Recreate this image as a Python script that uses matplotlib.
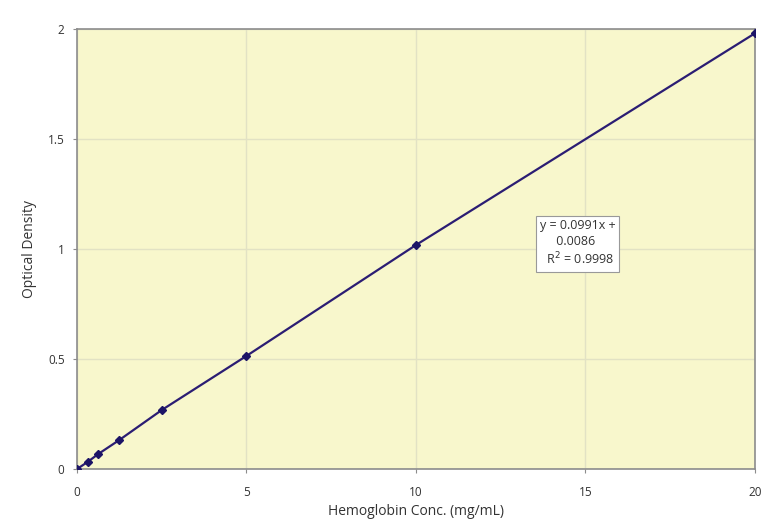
import matplotlib
matplotlib.use('Agg')
import matplotlib.pyplot as plt

# hemoglobin standard curve
conc = [0, 0.3125, 0.625, 1.25, 2.5, 5, 10, 20]
od = [0.0, 0.032, 0.068, 0.132, 0.268, 0.514, 1.018, 1.98]
xticks = [0, 5, 10, 15, 20]
yticks = [0, 0.5, 1, 1.5, 2]
yticklabels = ['0', '0.5', '1', '1.5', '2']
fit_text = 'y = 0.0991x +\n     0.0086\n  R$^2$ = 0.9998'

plt.rcParams['font.family'] = ['Open Sans', 'DejaVu Sans']

fig = plt.figure(figsize=(7.64, 5.29), dpi=100)
ax = fig.add_axes([0.1008, 0.1134, 0.8872, 0.8318])
ax.set_facecolor('#f8f7cc')

ax.plot(conc, od, color='#2b1d73', lw=1.6, marker='D', ms=4.5,
        mfc='#1c1466', mec='#1c1466', zorder=3)

ax.set_xlim(0, 20)
ax.set_ylim(0, 2)
ax.set_xticks(xticks)
ax.set_yticks(yticks)
ax.set_yticklabels(yticklabels)
ax.grid(True, color='#e2e2c4', lw=1)
ax.set_axisbelow(True)
for s in ax.spines.values():
    s.set_color('#8c8c8c')
    s.set_linewidth(1.2)
ax.tick_params(length=3, color='#8c8c8c', labelsize=8.5, labelcolor='#333333')
ax.tick_params(axis='x', pad=9)
ax.tick_params(axis='y', pad=6)

ax.set_xlabel('Hemoglobin Conc. (mg/mL)', fontsize=10, color='#333333', labelpad=4)
ax.set_ylabel('Optical Density', fontsize=10, color='#333333', labelpad=8)

ax.text(13.65, 1.135, fit_text, fontsize=9, color='#333333', va='top', ha='left',
        linespacing=1.25,
        bbox=dict(boxstyle='square,pad=0.3', fc='white', ec='#999999', lw=0.8))

fig.savefig('out.png', dpi=100)
